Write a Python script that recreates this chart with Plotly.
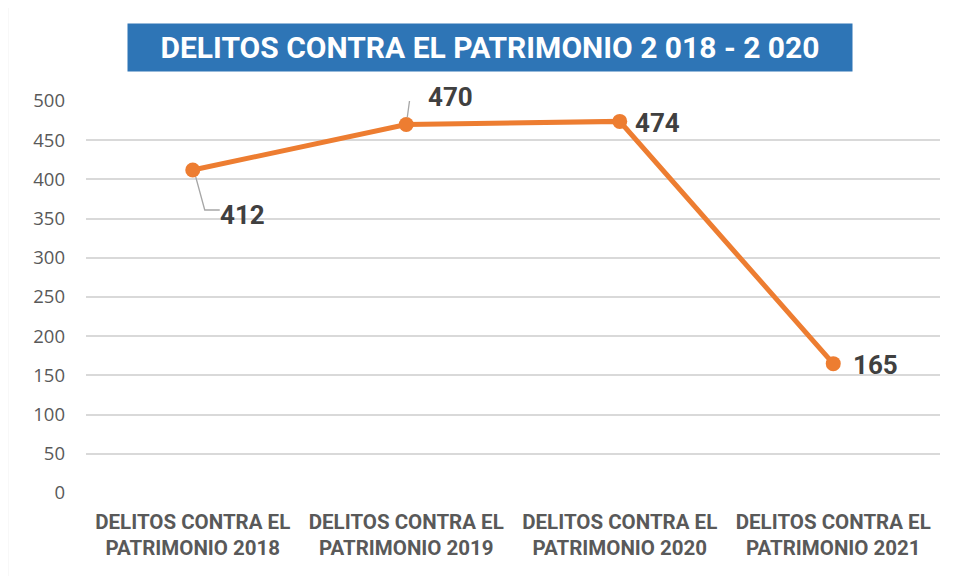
import plotly.graph_objects as go

# Data
categories = ["DELITOS CONTRA EL<br>PATRIMONIO 2018", "DELITOS CONTRA EL<br>PATRIMONIO 2019",
              "DELITOS CONTRA EL<br>PATRIMONIO 2020", "DELITOS CONTRA EL<br>PATRIMONIO 2021"]
values = [412, 470, 474, 165]
y_ticks = [0, 50, 100, 150, 200, 250, 300, 350, 400, 450, 500]
title = "DELITOS CONTRA EL PATRIMONIO 2 018 - 2 020"

bold_font = "Roboto, Arial, sans-serif"
orange = "#ED7D31"

fig = go.Figure()
fig.add_trace(go.Scatter(
    x=categories, y=values, mode="lines+markers",
    line=dict(color=orange, width=5),
    marker=dict(color=orange, size=15),
    hoverinfo="skip",
))

# data labels: pixel offsets from the point
label_pos = [(50, 45), (44, -28), (38, 2), (42, 1)]
for cat, val, (dx, dy) in zip(categories, values, label_pos):
    fig.add_annotation(
        x=cat, y=val, text="<b>%d</b>" % val, showarrow=False,
        xshift=dx, yshift=-dy,
        font=dict(family=bold_font, size=26, color="#404040"),
    )

# leader lines for the first two labels (elbow, pixel offsets from the point)
leaders = {0: "M 3,-7 L 12,-40 L 27,-40", 1: "M 1,7 L 4,29 L 16,29"}
for i, path in leaders.items():
    fig.add_shape(type="path", xref="x", yref="y",
                  xsizemode="pixel", ysizemode="pixel",
                  xanchor=categories[i], yanchor=values[i], path=path,
                  line=dict(color="#A6A6A6", width=1.3))

# title box
fig.add_annotation(
    xref="paper", yref="paper", x=0.473, y=1.2, yanchor="top",
    text="<b>" + title + "</b>", showarrow=False,
    bgcolor="#2E75B6", borderpad=6, width=712,
    font=dict(family=bold_font, size=30, color="white"),
)

# chart border
fig.add_shape(type="rect", xref="paper", yref="paper",
              x0=-0.092, x1=1.2, y0=-0.4, y1=1.247,
              line=dict(color="#D9D9D9", width=1.5), layer="below")

# page body has an 8px margin, so the figure is a bit smaller than the window
fig.update_layout(
    width=958, height=568,
    margin=dict(l=78, r=26, t=93, b=83),
    paper_bgcolor="white", plot_bgcolor="white",
    showlegend=False,
    xaxis=dict(range=[-0.5, 3.5], showgrid=False, showline=False, ticks="",
               automargin=False, ticklabelstandoff=14,
               tickfont=dict(family=bold_font, size=20.5, color="#595959")),
    yaxis=dict(range=[0, 500], tickvals=y_ticks, showgrid=True, automargin=False,
               gridcolor="#D9D9D9", gridwidth=1.5, zeroline=False,
               showline=False, ticks="", ticklabelstandoff=20,
               tickfont=dict(family="Open Sans, sans-serif", size=18.5, color="#595959")),
)
fig.update_xaxes(tickvals=categories, ticktext=["<b>" + c + "</b>" for c in categories])

fig.write_html("out.html")
